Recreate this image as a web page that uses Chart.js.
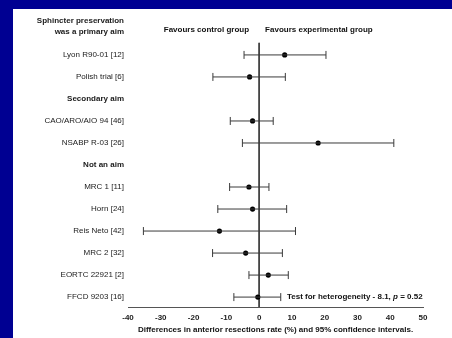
<!DOCTYPE html>
<html>
<head>
<meta charset="utf-8">
<script src="https://cdn.jsdelivr.net/npm/chart.js@4.4.1/dist/chart.umd.min.js"></script>
<style>
  html, body { margin: 0; padding: 0; }
  body { width: 452px; height: 338px; background: #000092; position: relative; overflow: hidden; }
  #panel { position: absolute; left: 13px; top: 9px; width: 439px; height: 329px; background: #fff; }
</style>
</head>
<body>
<div id="panel"><canvas id="forestChart" width="439" height="329"></canvas></div>
<script>
const grupos = ['Sphincter preservation|was a primary aim', 'Secondary aim', 'Not an aim'];
const estudios = ['Lyon R90-01 [12]', 'Polish trial [6]', 'CAO/ARO/AIO 94 [46]', 'NSABP R-03 [26]',
    'MRC 1 [11]', 'Horn [24]', 'Reis Neto [42]', 'MRC 2 [32]', 'EORTC 22921 [2]', 'FFCD 9203 [16]'];
const grupoDe = [0, 0, 1, 1, 2, 2, 2, 2, 2, 2];
const diferencia = [7.8, -2.9, -2.0, 18.0, -3.1, -2.0, -12.1, -4.1, 2.8, -0.4];
const icBajo = [-4.6, -14.1, -8.8, -5.1, -9.0, -12.6, -35.3, -14.2, -3.1, -7.7];
const icAlto = [20.4, 8.0, 4.3, 41.1, 3.0, 8.4, 11.1, 7.1, 8.9, 6.6];
const ticksX = [-40, -30, -20, -10, 0, 10, 20, 30, 40, 50];
const heterogeneidad = { q: '8.1', p: '0.52' };

// filas: cabecera de grupo seguida de sus estudios
const filas = [];
estudios.forEach((nombre, i) => {
    if (i === 0 || grupoDe[i] !== grupoDe[i - 1]) {
        filas.push({ label: grupos[grupoDe[i]].split('|'), grupo: true });
    }
    filas.push({ label: nombre, grupo: false, estudio: i });
});
const filaDe = estudios.map((_, i) => filas.findIndex(f => f.estudio === i));

const FUENTE = "'Liberation Sans', Arial, sans-serif";
const GRIS = '#3a3a3a';

const datasets = [];
estudios.forEach((nombre, i) => {
    datasets.push({
        label: nombre,
        data: [{ x: icBajo[i], y: filaDe[i] }, { x: icAlto[i], y: filaDe[i] }],
        showLine: true,
        borderColor: GRIS,
        borderWidth: 1,
        pointStyle: 'line',
        rotation: 90,
        pointRadius: 4,
        pointBorderColor: GRIS,
        pointBorderWidth: 1
    });
});
datasets.push({
    label: 'estimacion',
    data: estudios.map((_, i) => ({ x: diferencia[i], y: filaDe[i] })),
    pointRadius: 2.6,
    backgroundColor: '#000',
    borderColor: '#000',
    borderWidth: 0
});
datasets.push({
    label: 'cero',
    data: [{ x: 0, y: 0.45 }, { x: 0, y: filas.length - 0.55 }],
    showLine: true,
    borderColor: GRIS,
    borderWidth: 1,
    pointRadius: 0
});

const textosExtra = {
    id: 'textosExtra',
    afterDraw(chart) {
        const ctx = chart.ctx;
        const x = chart.scales.x;
        const y = chart.scales.y;
        const x0 = x.getPixelForValue(0);
        ctx.save();
        ctx.fillStyle = '#111';
        ctx.font = 'bold 8px ' + FUENTE;
        ctx.textBaseline = 'middle';
        ctx.textAlign = 'right';
        ctx.fillText('Favours control group', x0 - 10, 20.5);
        ctx.textAlign = 'left';
        ctx.fillText('Favours experimental group', x0 + 6, 20.5);

        // test de heterogeneidad junto a la ultima fila
        let px = x.getPixelForValue(8.5);
        const py = y.getPixelForValue(filas.length - 1);
        const partes = [
            ['Test for heterogeneity - ' + heterogeneidad.q + ', ', 'bold 8px '],
            ['p', 'italic bold 8px '],
            [' = ' + heterogeneidad.p, 'bold 8px ']
        ];
        partes.forEach(([t, f]) => {
            ctx.font = f + FUENTE;
            ctx.fillText(t, px, py);
            px += ctx.measureText(t).width;
        });
        ctx.restore();
    }
};

const ctx = document.getElementById('forestChart').getContext('2d');
new Chart(ctx, {
    type: 'scatter',
    data: { datasets: datasets },
    plugins: [textosExtra],
    options: {
        responsive: false,
        animation: false,
        layout: { padding: { top: 14, right: 29, left: 0, bottom: 0 } },
        plugins: {
            legend: { display: false },
            tooltip: { enabled: false }
        },
        scales: {
            x: {
                type: 'linear',
                min: -40,
                max: 50,
                afterBuildTicks: s => { s.ticks = ticksX.map(v => ({ value: v })); },
                afterFit: s => { s.height = 31; },
                grid: { display: false, drawTicks: false },
                border: { display: true, color: '#555', width: 1 },
                ticks: {
                    color: '#222',
                    padding: 6,
                    font: { family: FUENTE, size: 8, weight: 'bold' },
                    maxRotation: 0
                },
                title: {
                    display: true,
                    text: 'Differences in anterior resections rate (%) and 95% confidence intervals.',
                    color: '#111',
                    font: { family: FUENTE, size: 8, weight: 'bold' },
                    padding: { top: 0, bottom: 3 }
                }
            },
            y: {
                type: 'linear',
                reverse: true,
                min: -0.45,
                max: filas.length - 0.55,
                afterFit: s => { s.width = 115; },
                afterBuildTicks: s => {
                    s.ticks = filas.map((f, i) => ({ value: i === 0 ? -0.29 : i }));
                },
                grid: { display: false, drawTicks: false },
                border: { display: false },
                ticks: {
                    padding: 4,
                    color: '#1a1a1a',
                    autoSkip: false,
                    callback: (v, i) => filas[i].label,
                    font: c => ({
                        family: FUENTE,
                        size: 8,
                        lineHeight: 1.375,
                        weight: filas[c.index] && filas[c.index].grupo ? 'bold' : 'normal'
                    })
                }
            }
        }
    }
});
</script>
</body>
</html>
